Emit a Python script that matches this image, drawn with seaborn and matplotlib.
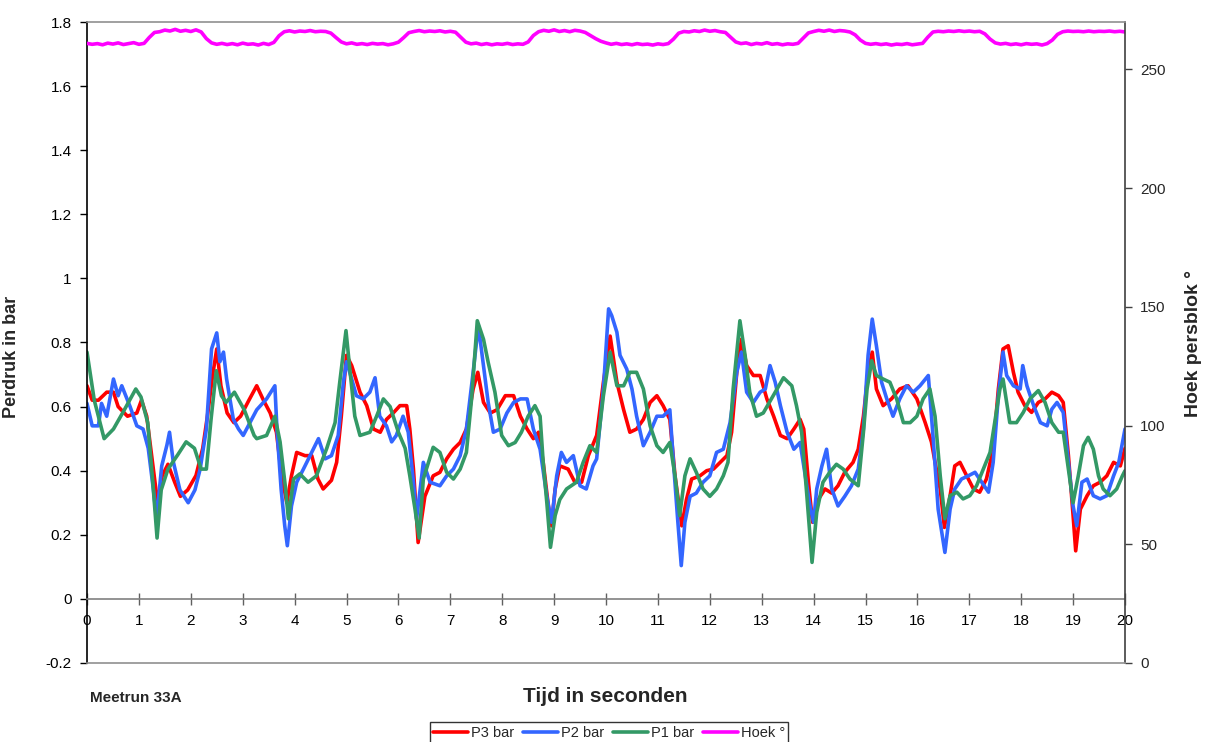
import numpy as np
import matplotlib
matplotlib.use("Agg")
import matplotlib.pyplot as plt
from matplotlib.ticker import FuncFormatter
import seaborn as sns

# ---- measured series (time in s, pressure in bar) ----
p3_t = [0.0, 0.10, 0.22, 0.38, 0.51, 0.60, 0.78, 0.96, 1.05, 1.15, 1.26, 1.36, 1.45, 1.56, 1.69, 1.80, 1.94,
        2.10, 2.23, 2.32, 2.42, 2.50, 2.58, 2.70, 2.83, 2.96, 3.12, 3.27, 3.40, 3.53, 3.65, 3.75, 3.85, 3.94,
        4.04, 4.20, 4.33, 4.45, 4.55, 4.71, 4.81, 4.90, 5.00, 5.10, 5.26, 5.39, 5.52, 5.65, 5.77, 5.90, 6.03,
        6.16, 6.22, 6.29, 6.38, 6.51, 6.67, 6.80, 6.93, 7.06, 7.19, 7.31, 7.44, 7.53, 7.64, 7.77, 7.90, 8.06,
        8.22, 8.35, 8.48, 8.60, 8.70, 8.79, 8.89, 8.95, 9.02, 9.11, 9.27, 9.40, 9.53, 9.66, 9.82, 9.95, 10.08,
        10.21, 10.34, 10.46, 10.59, 10.72, 10.85, 10.98, 11.10, 11.23, 11.33, 11.46, 11.55, 11.65, 11.81, 11.94,
        12.07, 12.20, 12.33, 12.42, 12.52, 12.61, 12.71, 12.84, 12.97, 13.10, 13.23, 13.36, 13.49, 13.62, 13.74,
        13.81, 13.90, 13.98, 14.09, 14.22, 14.35, 14.47, 14.60, 14.76, 14.86, 14.96, 15.05, 15.13, 15.21, 15.34,
        15.50, 15.66, 15.82, 15.99, 16.15, 16.27, 16.37, 16.44, 16.52, 16.63, 16.72, 16.82, 16.95, 17.08, 17.20,
        17.33, 17.46, 17.56, 17.65, 17.75, 17.85, 17.94, 18.07, 18.20, 18.33, 18.46, 18.59, 18.72, 18.81, 18.91,
        19.00, 19.05, 19.14, 19.27, 19.39, 19.52, 19.65, 19.78, 19.91, 20.0]
p3_bar = [0.665, 0.62, 0.62, 0.645, 0.645, 0.60, 0.57, 0.58, 0.62, 0.57, 0.43, 0.30, 0.385, 0.42, 0.364, 0.32, 0.34,
          0.385, 0.47, 0.57, 0.697, 0.78, 0.665, 0.58, 0.55, 0.57, 0.62, 0.665, 0.62, 0.58, 0.52, 0.384, 0.30, 0.384,
          0.457, 0.447, 0.447, 0.374, 0.343, 0.37, 0.426, 0.57, 0.76, 0.728, 0.645, 0.603, 0.53, 0.52, 0.56, 0.58, 0.603,
          0.603, 0.53, 0.405, 0.176, 0.32, 0.384, 0.395, 0.437, 0.467, 0.488, 0.53, 0.655, 0.707, 0.613, 0.58, 0.59, 0.634,
          0.634, 0.57, 0.53, 0.50, 0.52, 0.426, 0.29, 0.228, 0.343, 0.415, 0.405, 0.364, 0.364, 0.447, 0.51, 0.676, 0.82,
          0.676, 0.59, 0.52, 0.53, 0.56, 0.613, 0.634, 0.603, 0.56, 0.384, 0.228, 0.31, 0.374, 0.384, 0.40,
          0.405, 0.426, 0.447, 0.52, 0.707, 0.81, 0.728, 0.697, 0.697, 0.624, 0.57, 0.51, 0.50, 0.53, 0.56,
          0.53, 0.364, 0.239, 0.31, 0.343, 0.33, 0.353, 0.395, 0.426, 0.467, 0.57, 0.707, 0.77, 0.655, 0.603,
          0.624, 0.655, 0.665, 0.624, 0.55, 0.49, 0.40, 0.343, 0.223, 0.322, 0.415, 0.426, 0.384, 0.343, 0.333,
          0.374, 0.467, 0.655, 0.78, 0.79, 0.707, 0.645, 0.603, 0.582, 0.613, 0.624, 0.645, 0.634, 0.613, 0.447,
          0.26, 0.15, 0.28, 0.322, 0.353, 0.364, 0.384, 0.426, 0.415, 0.47]

p2_t = [0.0, 0.10, 0.22, 0.28, 0.38, 0.51, 0.60, 0.67, 0.83, 0.96, 1.08, 1.18, 1.28, 1.34, 1.44, 1.54, 1.59, 1.66,
        1.79, 1.95, 2.08, 2.18, 2.30, 2.40, 2.50, 2.56, 2.63, 2.69, 2.82, 2.92, 3.01, 3.14, 3.27, 3.46, 3.62, 3.66,
        3.74, 3.81, 3.86, 3.94, 4.04, 4.17, 4.33, 4.46, 4.59, 4.71, 4.84, 4.94, 5.00, 5.10, 5.19, 5.32, 5.45, 5.55,
        5.64, 5.77, 5.87, 5.96, 6.09, 6.19, 6.29, 6.35, 6.42, 6.48, 6.61, 6.80, 6.93, 7.06, 7.19, 7.31, 7.44, 7.54,
        7.64, 7.73, 7.83, 7.96, 8.09, 8.22, 8.35, 8.48, 8.60, 8.73, 8.86, 8.95, 9.05, 9.14, 9.24, 9.37, 9.50, 9.62,
        9.75, 9.82, 9.95, 10.05, 10.11, 10.21, 10.27, 10.40, 10.50, 10.59, 10.72, 10.85, 10.98, 11.10, 11.23, 11.30,
        11.38, 11.45, 11.52, 11.62, 11.74, 11.87, 12.00, 12.13, 12.26, 12.39, 12.52, 12.61, 12.71, 12.84, 12.97,
        13.07, 13.16, 13.26, 13.36, 13.49, 13.62, 13.74, 13.84, 13.93, 14.00, 14.06, 14.16, 14.25, 14.35, 14.47,
        14.60, 14.73, 14.86, 14.96, 15.05, 15.13, 15.21, 15.31, 15.41, 15.53, 15.66, 15.79, 15.92, 16.05, 16.21,
        16.30, 16.40, 16.53, 16.63, 16.72, 16.85, 16.98, 17.11, 17.24, 17.37, 17.46, 17.56, 17.65, 17.72, 17.85,
        17.98, 18.03, 18.11, 18.24, 18.37, 18.50, 18.59, 18.69, 18.81, 18.91, 19.00, 19.07, 19.17, 19.27, 19.39,
        19.52, 19.65, 19.78, 19.88, 20.0]
p2_bar = [0.61, 0.54, 0.54, 0.61, 0.57, 0.686, 0.634, 0.665, 0.60, 0.54, 0.53, 0.47, 0.34, 0.25, 0.415, 0.48, 0.52, 0.43,
          0.34, 0.30, 0.34, 0.405, 0.53, 0.78, 0.83, 0.74, 0.77, 0.686, 0.56, 0.53, 0.51, 0.55, 0.59, 0.624, 0.665, 0.53,
          0.343, 0.228, 0.166, 0.29, 0.364, 0.405, 0.457, 0.50, 0.437, 0.447, 0.51, 0.676, 0.74, 0.686, 0.634, 0.624, 0.645, 0.69,
          0.57, 0.54, 0.49, 0.51, 0.57, 0.52, 0.364, 0.25, 0.343, 0.426, 0.364, 0.353, 0.384, 0.405, 0.447, 0.53, 0.707, 0.853,
          0.728, 0.613, 0.52, 0.53, 0.58, 0.613, 0.624, 0.624, 0.53, 0.467, 0.32, 0.239, 0.384, 0.457, 0.426, 0.447, 0.353, 0.343,
          0.415, 0.437, 0.655, 0.905, 0.884, 0.832, 0.76, 0.717, 0.655, 0.57, 0.478, 0.52, 0.57, 0.57, 0.59, 0.426,
          0.25, 0.104, 0.239, 0.32, 0.33, 0.364, 0.384, 0.457, 0.467, 0.55, 0.707, 0.77, 0.645, 0.613, 0.645,
          0.655, 0.728, 0.676, 0.603, 0.52, 0.467, 0.488, 0.384, 0.29, 0.239, 0.343, 0.415, 0.467, 0.343, 0.29,
          0.32, 0.353, 0.405, 0.53, 0.76, 0.873, 0.79, 0.676, 0.624, 0.57, 0.624, 0.665, 0.645, 0.665, 0.697,
          0.51, 0.28, 0.145, 0.28, 0.343, 0.374, 0.384, 0.395, 0.364, 0.333, 0.426, 0.634, 0.77, 0.697, 0.665,
          0.655, 0.728, 0.665, 0.603, 0.55, 0.54, 0.592, 0.613, 0.582, 0.426, 0.29, 0.228, 0.364, 0.374, 0.322,
          0.312, 0.322, 0.384, 0.426, 0.53]

p1_t = [0.0, 0.14, 0.33, 0.51, 0.72, 0.94, 1.04, 1.17, 1.26, 1.35, 1.43, 1.56, 1.75, 1.91, 2.07, 2.20, 2.30, 2.39,
        2.49, 2.59, 2.68, 2.84, 3.03, 3.22, 3.27, 3.46, 3.62, 3.72, 3.82, 3.88, 3.98, 4.10, 4.26, 4.42, 4.62, 4.78,
        4.87, 4.99, 5.07, 5.16, 5.26, 5.45, 5.58, 5.71, 5.84, 6.00, 6.13, 6.22, 6.32, 6.40, 6.48, 6.67, 6.80, 6.93,
        7.06, 7.19, 7.31, 7.41, 7.52, 7.64, 7.73, 7.86, 7.99, 8.12, 8.25, 8.37, 8.50, 8.63, 8.73, 8.79, 8.86, 8.93,
        9.02, 9.11, 9.24, 9.43, 9.56, 9.69, 9.82, 9.95, 10.08, 10.21, 10.34, 10.46, 10.59, 10.72, 10.85, 10.98,
        11.10, 11.23, 11.33, 11.42, 11.52, 11.62, 11.74, 11.87, 12.00, 12.13, 12.26, 12.35, 12.45, 12.58, 12.68,
        12.77, 12.90, 13.03, 13.26, 13.42, 13.58, 13.67, 13.77, 13.86, 13.97, 14.06, 14.18, 14.31, 14.44, 14.57,
        14.70, 14.86, 14.96, 15.03, 15.12, 15.21, 15.34, 15.47, 15.60, 15.73, 15.86, 15.99, 16.11, 16.24, 16.34,
        16.44, 16.53, 16.63, 16.76, 16.88, 17.01, 17.14, 17.27, 17.40, 17.49, 17.59, 17.65, 17.78, 17.91, 18.04,
        18.17, 18.33, 18.46, 18.59, 18.72, 18.81, 18.91, 19.00, 19.10, 19.20, 19.29, 19.39, 19.49, 19.58, 19.71,
        19.84, 19.95, 20.0]
p1_bar = [0.77, 0.62, 0.50, 0.53, 0.59, 0.655, 0.63, 0.55, 0.38, 0.19, 0.34, 0.405, 0.45, 0.49, 0.47, 0.405, 0.405, 0.56,
          0.712, 0.634, 0.613, 0.645, 0.59, 0.51, 0.50, 0.51, 0.57, 0.49, 0.353, 0.25, 0.374, 0.39, 0.364, 0.384, 0.47, 0.55,
          0.676, 0.837, 0.707, 0.57, 0.51, 0.52, 0.57, 0.624, 0.60, 0.52, 0.47, 0.384, 0.28, 0.19, 0.374, 0.473, 0.457, 0.395,
          0.374, 0.405, 0.457, 0.624, 0.868, 0.81, 0.738, 0.645, 0.51, 0.478, 0.488, 0.52, 0.57, 0.603, 0.57, 0.426, 0.30, 0.161,
          0.26, 0.31, 0.343, 0.364, 0.426, 0.478, 0.457, 0.634, 0.77, 0.665, 0.665, 0.707, 0.707, 0.655, 0.54, 0.478,
          0.457, 0.488, 0.384, 0.26, 0.384, 0.437, 0.395, 0.343, 0.32, 0.343, 0.384, 0.426, 0.655, 0.868, 0.76,
          0.645, 0.57, 0.58, 0.645, 0.69, 0.665, 0.603, 0.52, 0.343, 0.114, 0.27, 0.364, 0.395, 0.42, 0.405,
          0.374, 0.353, 0.52, 0.655, 0.743, 0.697, 0.686, 0.676, 0.624, 0.55, 0.55, 0.57, 0.624, 0.655, 0.57,
          0.384, 0.25, 0.322, 0.333, 0.312, 0.322, 0.353, 0.405, 0.457, 0.55, 0.655, 0.686, 0.55, 0.55, 0.582,
          0.624, 0.65, 0.613, 0.55, 0.52, 0.52, 0.405, 0.30, 0.384, 0.478, 0.504, 0.467, 0.384, 0.343, 0.322,
          0.343, 0.384, 0.40]

# press block angle in degrees, sampled every 0.1 s from 0 to 20 s
hoek_deg = [
    261.0, 260.6, 260.9, 260.4, 261.1, 260.7, 261.2, 260.5, 260.9, 261.3,
    260.6, 261.0, 263.5, 265.6, 265.9, 266.6, 266.2, 266.9, 266.1, 266.5,
    266.0, 266.7, 265.8, 263.0, 261.2, 260.6, 261.0, 260.5, 260.9, 260.4,
    261.1, 260.6, 260.8, 260.3, 261.0, 260.5, 261.4, 264.2, 265.9, 266.3,
    265.8, 266.2, 266.0, 266.4, 265.9, 266.1, 266.0, 265.3, 263.4, 261.6,
    260.8, 261.2, 260.6, 260.9, 260.5, 261.0, 260.7, 260.9, 260.4, 260.8,
    261.5, 263.4, 265.5, 266.0, 266.4, 265.9, 266.2, 266.0, 266.3, 265.8,
    266.1, 265.7, 263.6, 261.5, 260.8, 261.1, 260.5, 260.9, 260.4, 260.8,
    260.6, 261.0, 260.5, 260.8, 260.6, 261.6, 264.3, 265.9, 266.5, 266.1,
    266.7, 266.0, 266.4, 265.9, 266.5, 266.2, 265.6, 264.3, 263.0, 261.9,
    261.2, 260.6, 261.0, 260.5, 260.8, 260.4, 260.9, 260.5, 260.7, 260.3,
    260.8, 260.5, 260.9, 262.8, 265.3, 266.0, 265.8, 266.3, 266.0, 266.6,
    266.1, 266.4, 265.9, 265.6, 263.6, 261.6, 260.9, 261.2, 260.5, 261.0,
    260.7, 261.3, 260.6, 260.9, 260.4, 260.8, 260.6, 261.0, 263.2, 265.4,
    266.0, 266.5, 266.1, 266.6, 266.0, 266.4, 266.2, 265.8, 264.6, 262.4,
    261.0, 260.6, 260.9, 260.5, 260.8, 260.3, 260.7, 260.5, 260.9, 260.4,
    260.7, 261.0, 263.6, 265.8, 266.1, 265.9, 266.2, 266.0, 266.3, 266.0,
    266.2, 265.9, 266.1, 265.0, 262.8, 261.2, 260.7, 261.0, 260.5, 260.8,
    260.4, 260.9, 260.6, 260.8, 260.3, 260.9, 262.4, 264.8, 265.9, 266.2,
    266.0, 266.1, 265.9, 266.2, 265.9, 266.1, 266.0, 266.2, 265.9, 266.1,
    265.8]
hoek_t = [round(i * 0.1, 1) for i in range(len(hoek_deg))]

left_ticks = [-0.2, 0, 0.2, 0.4, 0.6, 0.8, 1.0, 1.2, 1.4, 1.6, 1.8]
right_ticks = [0, 50, 100, 150, 200, 250]
x_ticks = list(range(0, 21))

sns.set_style("white")
plt.rcParams['font.family'] = ['Liberation Sans', 'DejaVu Sans']

W, H = 1206, 742
fig = plt.figure(figsize=(W / 100, H / 100), dpi=100)
ax = fig.add_axes([87 / W, 1 - 663 / H, (1125 - 87) / W, (663 - 22) / H])
ax2 = ax.twinx()

lw = 2.6
sns.lineplot(x=p3_t, y=p3_bar, ax=ax, color='#FF0000', lw=lw, label='P3 bar', sort=False, estimator=None)
sns.lineplot(x=p2_t, y=p2_bar, ax=ax, color='#3366FF', lw=lw, label='P2 bar', sort=False, estimator=None)
sns.lineplot(x=p1_t, y=p1_bar, ax=ax, color='#339966', lw=lw, label='P1 bar', sort=False, estimator=None)
sns.lineplot(x=hoek_t, y=hoek_deg, ax=ax2, color='#FF00FF', lw=lw, label='Hoek °', sort=False, estimator=None)

h1, l1 = ax.get_legend_handles_labels()
h2, l2 = ax2.get_legend_handles_labels()
ax.get_legend().remove()
ax2.get_legend().remove()

# axes ranges
ax.set_xlim(0, 20)
ax.set_ylim(-0.2, 1.8)
ax2.set_ylim(0, 270)

ax.set_xticks(x_ticks)
ax.set_yticks(left_ticks)
ax.yaxis.set_major_formatter(FuncFormatter(lambda v, p: f"{v:g}"))
ax2.set_yticks(right_ticks)

# frame: left axis black, zero line as x-axis, grey box elsewhere
for s in ['top', 'right']:
    ax.spines[s].set_visible(False)
ax.spines['left'].set_color('black')
ax.spines['left'].set_linewidth(1.2)
ax.spines['bottom'].set_position(('data', 0))
ax.spines['bottom'].set_color('#808080')
ax.spines['bottom'].set_linewidth(1.2)
ax2.spines['left'].set_visible(False)
ax2.spines['top'].set_color('#909090')
ax2.spines['bottom'].set_color('#909090')
ax2.spines['right'].set_color('#404040')
for s in ['top', 'bottom', 'right']:
    ax2.spines[s].set_linewidth(1.2)

ax.tick_params(axis='y', direction='out', length=5, width=1, pad=6, labelsize=11, left=True, colors='black')
ax.tick_params(axis='x', direction='inout', length=8, width=1, pad=7, labelsize=11, bottom=True,
               color='#606060', labelcolor='black')
ax2.tick_params(axis='y', direction='out', length=5, width=1, pad=6, labelsize=11, right=True, color='#404040')

ax.set_ylabel('Perdruk in bar', fontsize=13, fontweight='bold')
ax.yaxis.set_label_coords(-0.0645, 0.477)
ax2.set_ylabel('Hoek persblok °', fontsize=14, fontweight='bold', rotation=90)
ax2.yaxis.set_label_coords(1.058, 0.499)
ax.set_xlabel('')

fig.text(605 / W, 1 - 697 / H, 'Tijd in seconden', ha='center', va='center', fontsize=15, fontweight='bold')
fig.text(90 / W, 1 - 698 / H, 'Meetrun 33A', ha='left', va='center', fontsize=11, fontweight='bold')

leg = fig.legend(h1 + h2, l1 + l2, loc='upper center', bbox_to_anchor=(609 / W, 1 - 722 / H), ncol=4,
                 frameon=True, fancybox=False, edgecolor='black', fontsize=10.5, handlelength=2.4,
                 handletextpad=0.2, columnspacing=0.6, borderpad=0.25, borderaxespad=0)
leg.get_frame().set_linewidth(1.0)

fig.savefig('out.png', dpi=100)
